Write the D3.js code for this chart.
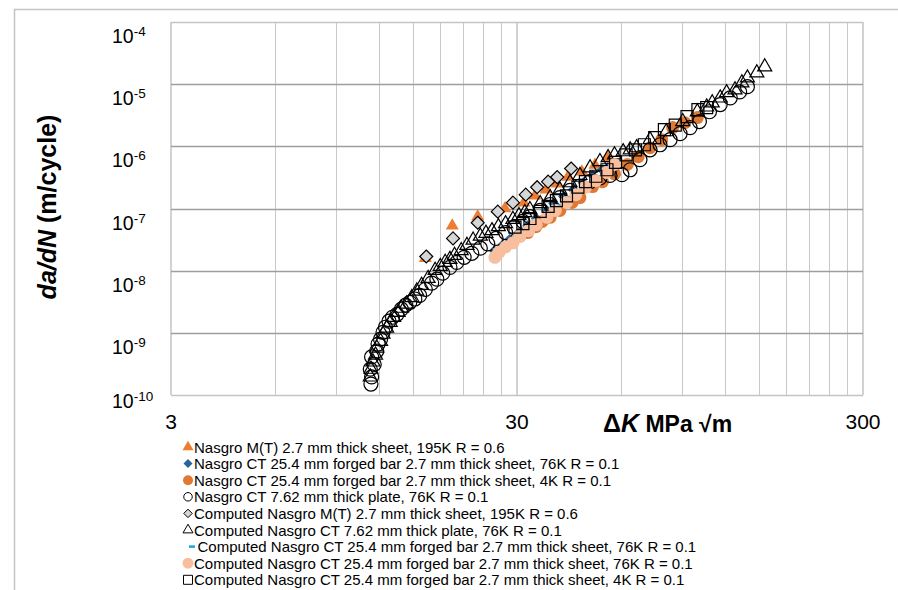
<!DOCTYPE html>
<html>
<head>
<meta charset="utf-8">
<script src="https://cdnjs.cloudflare.com/ajax/libs/d3/7.8.5/d3.min.js"></script>
<style>
body { margin: 0; background: #fff; }
text { font-family: "Liberation Sans", Arial, sans-serif; fill: #000; }
</style>
</head>
<body>
<svg id="chart" width="898" height="590"></svg>
<script>
// axis ticks
var xMajor = [3, 30, 300];
var yDecades = [1e-4, 1e-5, 1e-6, 1e-7, 1e-8, 1e-9, 1e-10];

// [delta K (MPa sqrt m), da/dN (m/cycle)]
var mtTest = [
    [16.3, 1.58e-8], [19.5, 5.3e-8], [23.1, 7.4e-8], [27.7, 1.0e-7], [31.4, 1.24e-7],
    [33.8, 1.6e-7], [36.4, 2.0e-7], [39.2, 2.5e-7], [42.1, 3.2e-7], [46.2, 3.9e-7],
    [50.4, 5.0e-7], [55.0, 6.6e-7]
];
var bar76Test = [
    [25.8, 2.1e-8], [27.3, 2.6e-8], [28.6, 3.2e-8], [30.4, 4.1e-8], [32.2, 5.3e-8],
    [34.1, 6.9e-8], [36.6, 9.3e-8], [38.3, 1.2e-7], [40.9, 1.56e-7], [43.6, 2.0e-7],
    [46.6, 2.6e-7], [49.6, 3.4e-7], [52.9, 4.2e-7], [55.7, 4.9e-7]
];
var bar4Test = [
    [30.6, 3.6e-8], [32.2, 4.1e-8], [34.0, 5.1e-8], [35.5, 6.2e-8], [37.4, 7.2e-8],
    [39.9, 9.3e-8], [43.3, 1.25e-7], [45.6, 1.5e-7], [49.6, 2.25e-7], [53.0, 2.7e-7],
    [57.4, 3.6e-7], [62.5, 5.1e-7], [67.2, 6.8e-7], [72.7, 9.5e-7], [78.6, 1.28e-6],
    [84.5, 2.0e-6], [91.6, 2.4e-6], [99.6, 2.9e-6]
];
var plateTest = [
    [11.35, 1.5e-10], [11.4, 1.95e-10], [11.3, 2.6e-10], [11.6, 3.1e-10], [11.4, 4.1e-10],
    [11.8, 5.1e-10], [11.9, 6.6e-10], [12.1, 7.9e-10], [12.3, 1.02e-9], [12.5, 1.23e-9],
    [12.8, 1.54e-9], [13.1, 1.78e-9], [13.5, 1.99e-9], [13.9, 2.4e-9], [14.3, 2.8e-9],
    [14.7, 3.1e-9], [15.2, 3.5e-9], [15.7, 4.0e-9], [16.3, 5.0e-9], [17.0, 6.3e-9],
    [17.6, 7.3e-9], [18.3, 9.1e-9], [19.2, 1.13e-8], [20.1, 1.36e-8], [21.1, 1.64e-8],
    [22.2, 1.9e-8], [23.5, 2.3e-8], [24.7, 2.7e-8], [26.1, 3.3e-8], [27.8, 4.1e-8],
    [29.4, 5.0e-8], [31.2, 6.2e-8], [32.7, 7.4e-8], [35.0, 9.3e-8], [37.4, 1.16e-7],
    [39.9, 1.5e-7], [42.7, 1.95e-7], [45.6, 2.3e-7], [48.8, 2.7e-7], [52.1, 3.1e-7],
    [55.7, 3.4e-7], [60.3, 3.5e-7], [63.7, 4.2e-7], [68.0, 6.1e-7], [72.7, 8.8e-7],
    [77.7, 1.06e-6], [83.1, 1.28e-6], [88.8, 1.6e-6], [94.9, 2.0e-6], [101, 2.5e-6],
    [108, 3.6e-6], [116, 4.7e-6], [124, 6.0e-6], [132, 7.5e-6], [139, 9.1e-6]
];
var mtComputed = [
    [16.4, 1.69e-8], [19.6, 3.3e-8], [23.1, 5.9e-8], [26.4, 8.9e-8], [29.2, 1.24e-7],
    [31.8, 1.67e-7], [34.3, 2.2e-7], [36.9, 2.7e-7], [39.2, 3.2e-7], [43.0, 4.4e-7]
];
var plateComputed = [
    [11.3, 1.95e-10], [11.35, 2.6e-10], [11.5, 3.4e-10], [11.7, 4.4e-10], [11.8, 5.7e-10],
    [12.1, 7.3e-10], [12.3, 9.5e-10], [12.6, 1.19e-9], [12.9, 1.48e-9], [13.2, 1.78e-9],
    [13.6, 2.14e-9], [13.9, 2.49e-9], [14.4, 2.9e-9], [14.9, 3.7e-9], [15.4, 4.7e-9],
    [15.9, 5.8e-9], [16.6, 7.5e-9], [17.4, 1.01e-8], [18.0, 1.17e-8], [18.6, 1.36e-8],
    [19.2, 1.52e-8], [19.8, 1.76e-8], [20.7, 2.1e-8], [21.5, 2.55e-8], [22.4, 3.1e-8],
    [23.5, 3.6e-8], [24.4, 4.0e-8], [25.4, 4.4e-8], [26.5, 5.1e-8], [27.8, 5.7e-8],
    [29.2, 6.7e-8], [30.4, 7.7e-8], [31.6, 8.6e-8], [32.7, 9.6e-8], [35.0, 1.2e-7],
    [37.4, 1.5e-7], [39.9, 2.0e-7], [42.7, 2.6e-7], [45.6, 3.4e-7], [48.8, 4.5e-7],
    [52.1, 5.7e-7], [55.0, 6.6e-7], [57.4, 7.3e-7], [60.8, 8.2e-7], [63.7, 8.8e-7],
    [66.5, 9.5e-7], [72.7, 1.28e-6], [81, 1.72e-6], [90.4, 2.5e-6], [99.6, 3.6e-6],
    [106, 4.3e-6], [110, 5.0e-6], [116, 6.0e-6], [121, 7.3e-6], [128, 8.1e-6],
    [134, 1.05e-5], [139, 1.26e-5], [148, 1.52e-5], [156, 1.9e-5]
];
var bar76ComputedDash = [
    [26.1, 2.2e-8], [28.0, 2.7e-8], [29.9, 3.7e-8], [31.9, 4.8e-8], [34.1, 6.2e-8],
    [36.6, 8.3e-8], [39.3, 1.12e-7], [41.9, 1.5e-7], [44.9, 1.95e-7], [47.6, 2.5e-7],
    [51.1, 3.3e-7], [54.6, 4.2e-7]
];
var bar76Computed = [
    [25.9, 1.64e-8], [26.6, 1.97e-8], [27.8, 2.4e-8], [29.2, 2.8e-8], [30.6, 3.6e-8],
    [32.4, 4.4e-8], [34.1, 5.5e-8], [36.6, 7.2e-8], [38.7, 9.3e-8], [41.7, 1.25e-7],
    [44.4, 1.67e-7], [47.3, 2.2e-7], [50.7, 2.8e-7], [54.4, 3.8e-7], [57.4, 5.1e-7]
];
var bar4Computed = [
    [29.6, 5.0e-8], [31.2, 5.7e-8], [32.7, 6.9e-8], [35.0, 9.0e-8], [36.9, 1.08e-7],
    [39.0, 1.34e-7], [41.7, 1.6e-7], [45.0, 2.2e-7], [47.3, 2.7e-7], [50.7, 3.3e-7],
    [54.6, 4.2e-7], [57.8, 5.5e-7], [62, 7.3e-7], [66, 8.8e-7], [70, 1.06e-6],
    [75, 1.38e-6], [80, 1.85e-6], [86, 2.2e-6], [93, 3.0e-6], [100, 3.9e-6], [106, 4.2e-6]
];

var seriesNames = [
    "Nasgro M(T) 2.7 mm thick sheet, 195K R = 0.6",
    "Nasgro CT 25.4 mm forged bar 2.7 mm thick sheet, 76K R = 0.1",
    "Nasgro CT 25.4 mm forged bar 2.7 mm thick sheet, 4K R = 0.1",
    "Nasgro CT 7.62 mm thick plate, 76K R = 0.1",
    "Computed Nasgro M(T) 2.7 mm thick sheet, 195K R = 0.6",
    "Computed Nasgro CT 7.62 mm thick plate, 76K R = 0.1",
    "Computed Nasgro CT 25.4 mm forged bar 2.7 mm thick sheet, 76K R = 0.1",
    "Computed Nasgro CT 25.4 mm forged bar 2.7 mm thick sheet, 76K R = 0.1",
    "Computed Nasgro CT 25.4 mm forged bar 2.7 mm thick sheet, 4K R = 0.1"
];
var seriesData = [mtTest, bar76Test, bar4Test, plateTest, mtComputed,
    plateComputed, bar76ComputedDash, bar76Computed, bar4Computed];

// marker look for each series, same order as the names
var markers = [
    {shape: "triangle", size: 13, fill: "#ED7D31", stroke: "none", legend: 11},
    {shape: "diamond", size: 11, fill: "#2666A0", stroke: "none", legend: 9},
    {shape: "circle", size: 13, fill: "#DE7A34", stroke: "none", legend: 10},
    {shape: "circle", size: 14, fill: "none", stroke: "#000", legend: 8.5},
    {shape: "diamond", size: 13, fill: "#D6D6D6", stroke: "#000", legend: 8.5},
    {shape: "triangle", size: 14, fill: "none", stroke: "#000", legend: 10},
    {shape: "dash", size: 7, fill: "#1FAAD8", stroke: "none", legend: 6},
    {shape: "circle", size: 13, fill: "#F8BE9E", stroke: "none", legend: 11},
    {shape: "square", size: 12, fill: "none", stroke: "#000", legend: 9}
];

function markerPath(shape, s) {
    if (shape === "triangle") {
        return d3.symbol().type(d3.symbolTriangle).size(s * s * Math.sqrt(3) / 4)();
    }
    if (shape === "circle") {
        return d3.symbol().type(d3.symbolCircle).size(Math.PI * s * s / 4)();
    }
    if (shape === "square") {
        return d3.symbol().type(d3.symbolSquare).size(s * s)();
    }
    if (shape === "diamond") {
        var h = s / 2;
        return "M0," + (-h) + "L" + h + ",0L0," + h + "L" + (-h) + ",0Z";
    }
    // dash
    return "M" + (-s / 2) + ",-1.3h" + s + "v2.6h" + (-s) + "Z";
}

function drawChart(id) {
    "use strict";
    var svg = d3.select(id);
    var left = 171, right = 863, top = 22, bottom = 395;

    var x = d3.scaleLog().domain([xMajor[0], xMajor[xMajor.length - 1]]).range([left, right]);
    var y = d3.scaleLog().domain([d3.min(yDecades), d3.max(yDecades)]).range([bottom, top]);

    // outer chart frame
    svg.append("rect")
        .attr("x", 14.5).attr("y", 9.5)
        .attr("width", 1000).attr("height", 1000)
        .attr("fill", "none")
        .attr("stroke", "#c4c4c4")
        .attr("stroke-width", 1.5);

    // minor vertical gridlines, 2..9 times each major tick
    var minor = [];
    xMajor.slice(0, -1).forEach(function (m) {
        for (var k = 2; k <= 9; k++) { minor.push(m * k); }
    });
    svg.append("g").selectAll("line")
        .data(minor)
        .enter().append("line")
        .attr("x1", function (d) { return Math.round(x(d)) + 0.5; })
        .attr("x2", function (d) { return Math.round(x(d)) + 0.5; })
        .attr("y1", top).attr("y2", bottom)
        .attr("stroke", "#c9c9c9");

    svg.append("g").selectAll("line")
        .data(xMajor)
        .enter().append("line")
        .attr("x1", function (d) { return x(d); })
        .attr("x2", function (d) { return x(d); })
        .attr("y1", top).attr("y2", bottom)
        .attr("stroke", "#d2d2d2")
        .attr("stroke-width", 2);

    // horizontal gridlines at decades
    svg.append("g").selectAll("line")
        .data(yDecades)
        .enter().append("line")
        .attr("x1", left).attr("x2", right)
        .attr("y1", function (d) { return Math.round(y(d)) + 0.5; })
        .attr("y2", function (d) { return Math.round(y(d)) + 0.5; })
        .attr("stroke", function (d, i) {
            return (i === 0 || i === yDecades.length - 1) ? "#c4c4c4" : "#9e9e9e"; })
        .attr("stroke-width", 1.3);

    // y tick labels 10^n
    var yl = svg.append("g").selectAll("text")
        .data(yDecades)
        .enter().append("text")
        .attr("x", 112)
        .attr("y", function (d) { return Math.min(y(d) + 21, 408); })
        .attr("font-size", "19.5px");
    yl.append("tspan").text("10");
    yl.append("tspan")
        .attr("font-size", "13.5px")
        .attr("dy", -7)
        .text(function (d) { return String(Math.round(Math.log10(d))); });

    // x tick labels
    svg.append("g").selectAll("text")
        .data(xMajor)
        .enter().append("text")
        .attr("x", function (d) { return x(d); })
        .attr("y", 429)
        .attr("text-anchor", "middle")
        .attr("font-size", "21px")
        .text(function (d) { return d; });

    // axis titles
    var xt = svg.append("text")
        .attr("x", 603).attr("y", 432)
        .attr("font-size", "25px")
        .attr("font-weight", "bold");
    xt.append("tspan").text("\u0394");
    xt.append("tspan").attr("font-style", "italic").text("K");
    xt.append("tspan").attr("font-size", "23px").text(" MPa \u221Am");

    var yt = svg.append("text")
        .attr("transform", "translate(56,207) rotate(-90)")
        .attr("text-anchor", "middle")
        .attr("font-size", "25px")
        .attr("font-weight", "bold");
    yt.append("tspan").attr("font-style", "italic").text("da/dN");
    yt.append("tspan").text(" (m/cycle)");

    // data points, later series on top
    seriesData.forEach(function (data, i) {
        var mk = markers[i];
        svg.append("g").selectAll("path")
            .data(data)
            .enter().append("path")
            .attr("d", markerPath(mk.shape, mk.size))
            .attr("transform", function (d) {
                return "translate(" + x(d[0]) + "," + y(d[1]) + ")"; })
            .attr("fill", mk.fill)
            .attr("stroke", mk.stroke)
            .attr("stroke-width", 1.2);
    });

    // legend
    var rows = svg.append("g").selectAll("g")
        .data(seriesNames)
        .enter().append("g")
        .attr("transform", function (d, i) {
            return "translate(188," + (447 + i * 16.6) + ")"; });
    rows.append("path")
        .attr("d", function (d, i) { return markerPath(markers[i].shape, markers[i].legend); })
        .attr("transform", function (d, i) { return markers[i].shape === "dash" ? "translate(4,0)" : null; })
        .attr("fill", function (d, i) { return markers[i].fill; })
        .attr("stroke", function (d, i) { return markers[i].stroke; })
        .attr("stroke-width", 1);
    rows.append("text")
        .attr("x", function (d, i) { return markers[i].shape === "dash" ? 9.5 : 6; })
        .attr("y", 5.5)
        .attr("font-size", "15px")
        .text(function (d) { return d; });
}

drawChart("#chart");
</script>
</body>
</html>
